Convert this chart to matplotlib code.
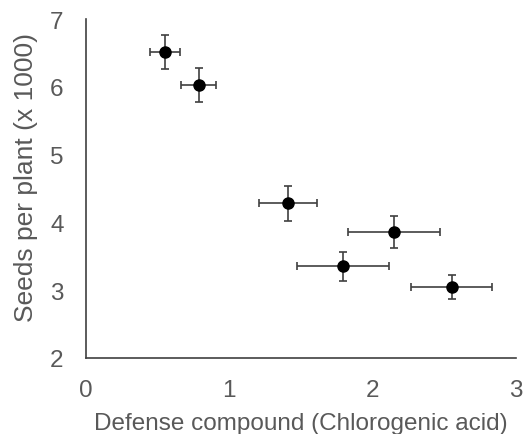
import matplotlib
matplotlib.use("Agg")
import matplotlib.pyplot as plt

# mean chlorogenic acid level and seed count per group, with errors
compound = [0.55, 0.785, 1.41, 2.15, 1.79, 2.55]
compound_err = [0.105, 0.124, 0.20, 0.32, 0.32, 0.28]
seeds = [6.51, 6.02, 4.28, 3.86, 3.35, 3.05]
seeds_err = [0.25, 0.25, 0.26, 0.24, 0.21, 0.18]

x_ticks = [0, 1, 2, 3]
y_ticks = [2, 3, 4, 5, 6, 7]

plt.rcParams["font.family"] = ["Liberation Sans", "DejaVu Sans"]
text_color = "#595959"

fig = plt.figure(figsize=(5.24, 4.35), dpi=100)
ax = fig.add_axes([0.164, 0.175, 0.821, 0.779])

ax.errorbar(compound, seeds, xerr=compound_err, yerr=seeds_err, fmt="o",
            color="black", markersize=8, ecolor="#404040", elinewidth=1.2,
            capsize=2.6, capthick=1.2)

ax.set_xlim(0, 3)
ax.set_ylim(2, 7)
ax.set_xticks(x_ticks)
ax.set_yticks(y_ticks)

for side in ["top", "right"]:
    ax.spines[side].set_visible(False)
for side in ["left", "bottom"]:
    ax.spines[side].set_color("#404040")
    ax.spines[side].set_linewidth(1.2)

ax.tick_params(axis="x", length=0, pad=15, labelsize=17.5, labelcolor=text_color)
ax.tick_params(axis="y", length=0, pad=16, labelsize=17.5, labelcolor=text_color)

ax.set_xlabel("Defense compound (Chlorogenic acid)", fontsize=17.5,
              color=text_color, labelpad=8)
ax.set_ylabel("Seeds per plant (x 1000)", fontsize=19, color=text_color,
              labelpad=9, y=0.535)

fig.savefig("out.png", dpi=100)
